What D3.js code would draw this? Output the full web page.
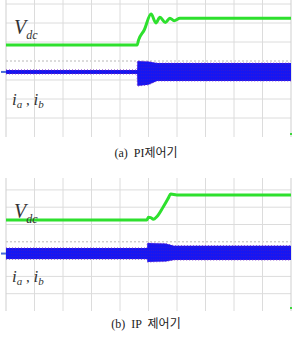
<!DOCTYPE html>
<html>
<head>
<meta charset="utf-8">
<script src="https://cdn.jsdelivr.net/npm/d3@7"></script>
<style>
  body { margin: 0; background: #fff; }
  svg { display: block; }
</style>
</head>
<body>
<div id="chart"></div>
<script>
// time axis in divisions, y in divisions (per panel)
const xTicks = [0, 1, 2, 3, 4, 5, 6, 7, 8, 9, 10];
const yTicks = [0, 1, 2, 3, 4, 5, 6, 7];

// (a) PI controller
const vdcA_t = [0, 4.6, 4.65, 4.85, 5.09, 5.26, 5.4, 5.59, 5.75, 5.9, 6.1, 10];
const vdcA_v = [4.84, 4.84, 5.1, 5.63, 6.47, 6.0, 6.3, 6.02, 6.25, 6.12, 6.25, 6.25];
const iA_t = [0, 4.6, 4.61, 5.0, 5.3, 10];
const iA_hi = [3.53, 3.53, 4.0, 3.97, 3.89, 3.89];
const iA_lo = [3.32, 3.32, 2.68, 2.75, 2.95, 2.95];

// (b) IP controller
const vdcB_t = [0, 4.94, 5.0, 5.08, 5.17, 5.29, 5.52, 5.69, 5.78, 5.99, 10];
const vdcB_v = [5.26, 5.26, 5.42, 5.4, 5.3, 5.45, 6.03, 6.51, 6.76, 6.71, 6.71];
const iB_t = [0, 4.95, 4.96, 5.6, 5.9, 10];
const iB_hi = [3.64, 3.64, 3.93, 3.9, 3.77, 3.77];
const iB_lo = [3.0, 3.0, 2.83, 2.86, 2.95, 2.95];

const captions = ["(a)  PI제어기", "(b)  IP  제어기"];

const width = 296, height = 338;
const svg = d3.select("#chart").append("svg")
  .attr("width", width).attr("height", height);

const defs = svg.append("defs");
const pat = defs.append("pattern")
  .attr("id", "noise").attr("patternUnits", "userSpaceOnUse")
  .attr("width", 2).attr("height", 3);
pat.append("rect").attr("width", 2).attr("height", 3).attr("fill", "#1616f2");
pat.append("rect").attr("x", 1).attr("y", 1).attr("width", 1).attr("height", 1).attr("fill", "#3018d8");

const xScale = d3.scaleLinear().domain([0, 10]).range([6, 291]);

const panels = [
  { top: 0, base: 137, step: 19, t: vdcA_t, v: vdcA_v, it: iA_t, hi: iA_hi, lo: iA_lo, cap: captions[0], capY: 157 },
  { top: 178, base: 311, step: 17.3, t: vdcB_t, v: vdcB_v, it: iB_t, hi: iB_hi, lo: iB_lo, cap: captions[1], capY: 328 }
];

panels.forEach((p, k) => {
  const yScale = d3.scaleLinear().domain([0, 1]).range([p.base, p.base - p.step]);
  const clipId = "clip" + k;
  defs.append("clipPath").attr("id", clipId).append("rect")
    .attr("x", 0).attr("y", p.top).attr("width", width).attr("height", p.base - p.top + 1);

  const g = svg.append("g").attr("clip-path", `url(#${clipId})`);

  // grid
  g.selectAll(".hgrid").data(yTicks.filter(d => d > 0)).enter().append("line")
    .attr("x1", xScale(0)).attr("x2", xScale(10))
    .attr("y1", d => yScale(d)).attr("y2", d => yScale(d))
    .attr("stroke", d => d === 4 ? "#b8b8b8" : "#dcdcdc")
    .attr("stroke-dasharray", d => d === 4 ? "2,2" : null)
    .attr("stroke-width", 1);
  g.selectAll(".vgrid").data(xTicks).enter().append("line")
    .attr("x1", d => xScale(d)).attr("x2", d => xScale(d))
    .attr("y1", p.top).attr("y2", p.base)
    .attr("stroke", (d, i) => (i === 0 || i === 10) ? "#cfcfcf" : "#dcdcdc")
    .attr("stroke-width", 1);

  // current envelope
  const area = d3.area()
    .x((d, i) => xScale(p.it[i]))
    .y0((d, i) => yScale(p.lo[i]))
    .y1((d, i) => yScale(p.hi[i]));
  g.append("path").datum(p.it).attr("d", area).attr("fill", "url(#noise)");
  ["hi", "lo"].forEach(key => {
    const edge = d3.line().x((d, i) => xScale(p.it[i])).y((d, i) => yScale(p[key][i]));
    g.append("path").datum(p.it).attr("d", edge)
      .attr("fill", "none").attr("stroke", "#7a30c8").attr("stroke-width", 1)
      .attr("stroke-dasharray", "1,2");
  });

  // Vdc
  const line = d3.line().curve(d3.curveMonotoneX)
    .x((d, i) => xScale(p.t[i])).y((d, i) => yScale(p.v[i]));
  g.append("path").datum(p.t).attr("d", line)
    .attr("fill", "none").attr("stroke", "#2ee02e").attr("stroke-width", 3)
    .attr("stroke-linejoin", "round");

  // channel marker
  svg.append("rect").attr("x", 1).attr("y", yScale((p.hi[0] + p.lo[0]) / 2) - 1)
    .attr("width", 5).attr("height", 2).attr("fill", "#4a6cd8");
  svg.append("rect").attr("x", 290).attr("y", p.base - 4)
    .attr("width", 2).attr("height", 2).attr("fill", "#3cd83c");

  // labels
  const vLab = svg.append("text").attr("x", 14).attr("y", yScale(5.75) + 6)
    .attr("font-family", "Liberation Serif, serif").attr("font-style", "italic")
    .attr("fill", "#333");
  vLab.append("tspan").attr("font-size", 20).text("V");
  vLab.append("tspan").attr("font-size", 12).attr("dy", 5).text("dc");

  const iLab = svg.append("text").attr("x", 12).attr("y", yScale(2.0) + 6)
    .attr("font-family", "Liberation Serif, serif").attr("font-style", "italic")
    .attr("fill", "#333");
  iLab.append("tspan").attr("font-size", 17).text("i");
  iLab.append("tspan").attr("font-size", 11).attr("dy", 3).text("a");
  iLab.append("tspan").attr("font-size", 15).attr("dy", -3).attr("font-style", "normal").text(" , ");
  iLab.append("tspan").attr("font-size", 17).text("i");
  iLab.append("tspan").attr("font-size", 11).attr("dy", 3).text("b");

  // caption
  svg.append("text").attr("x", 146).attr("y", p.capY)
    .attr("text-anchor", "middle")
    .attr("font-family", "Liberation Serif, 'Noto Sans CJK KR', serif")
    .attr("font-size", 12).attr("fill", "#222")
    .attr("xml:space", "preserve")
    .text(p.cap);
});
</script>
</body>
</html>
